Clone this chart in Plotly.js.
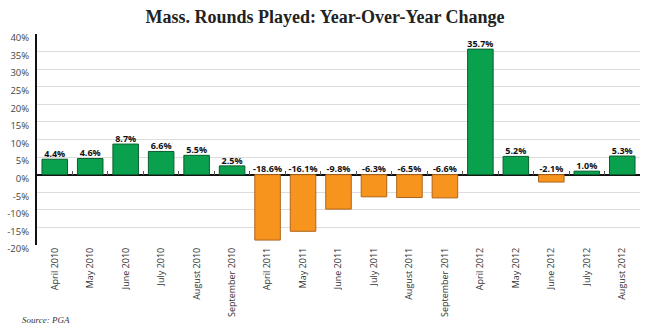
<!DOCTYPE html>
<html><head><meta charset="utf-8">
<script src="https://cdn.plot.ly/plotly-3.0.1.min.js"></script>
<style>html,body{margin:0;padding:0;background:#fff}#c{width:650px;height:329px}</style>
</head><body><div id="c"></div>
<script>
var months = ["April 2010","May 2010","June 2010","July 2010","August 2010","September 2010","April 2011","May 2011","June 2011","July 2011","August 2011","September 2011","April 2012","May 2012","June 2012","July 2012","August 2012"];
var changes = [4.4,4.6,8.7,6.6,5.5,2.5,-18.6,-16.1,-9.8,-6.3,-6.5,-6.6,35.7,5.2,-2.1,1.0,5.3];
var yTicks = [-20,-15,-10,-5,0,5,10,15,20,25,30,35,40];
var yTickText = yTicks.map(function(v){return v+"%";});

var fill = changes.map(function(v){return v>=0?"#0aa14e":"#f7941d";});
var edge = changes.map(function(v){return v>=0?"#0b5e2e":"#b0641a";});
var labels = changes.map(function(v){return v.toFixed(1)+"%";});
var labelY = changes.map(function(v){return Math.max(v,0);});

var bars = {type:"bar", x:months, y:changes, width:0.72,
  marker:{color:fill, line:{color:edge,width:1}}, hoverinfo:"none", showlegend:false};
var txt = {type:"scatter", mode:"text", x:months, y:labelY, xaxis:"x2",
  text:labels, textposition:"top center", cliponaxis:false,
  textfont:{family:"Open Sans, sans-serif", size:9, color:"#111", weight:"bold"},
  hoverinfo:"none", showlegend:false};

var layout = {
  width:650, height:329,
  margin:{l:37, r:10, t:34, b:84},
  paper_bgcolor:"#fff", plot_bgcolor:"#fff",
  title:{text:"<b>Mass. Rounds Played: Year-Over-Year Change</b>", x:0.5, xanchor:"center", y:0.95, yanchor:"middle",
    font:{family:"Liberation Serif, serif", size:18, color:"#222"}},
  xaxis:{type:"category", categoryarray:months, range:[-0.5,16.5], tickangle:-90,
    tickfont:{family:"Open Sans, sans-serif", size:9, color:"#333"}, showgrid:false, ticks:"", showline:false, fixedrange:true},
  xaxis2:{type:"category", categoryarray:months, range:[-0.5,16.5], overlaying:"x", anchor:"free", position:1/3,
    showticklabels:false, ticks:"inside", tickson:"boundaries", ticklen:4, tickwidth:1, tickcolor:"#555", showgrid:false, showline:false},
  yaxis:{range:[-20,40], tickvals:yTicks, ticktext:yTickText,
    tickfont:{family:"Open Sans, sans-serif", size:9.5, color:"#444"},
    showgrid:true, gridcolor:"#dcdcdc", gridwidth:1,
    zeroline:true, zerolinecolor:"#111", zerolinewidth:2,
    showline:true, linecolor:"#111", linewidth:2, ticks:"", ticklabelstandoff:4, ticklabelshift:4},
  annotations:[{text:"<i>Source: PGA</i>", xref:"paper", yref:"paper", x:-0.028, y:-0.355, xanchor:"left", yanchor:"middle",
    showarrow:false, font:{family:"Liberation Serif, serif", size:9, color:"#333"}}]
};
Plotly.newPlot("c",[bars,txt],layout,{displayModeBar:false,staticPlot:true});
</script></body></html>
